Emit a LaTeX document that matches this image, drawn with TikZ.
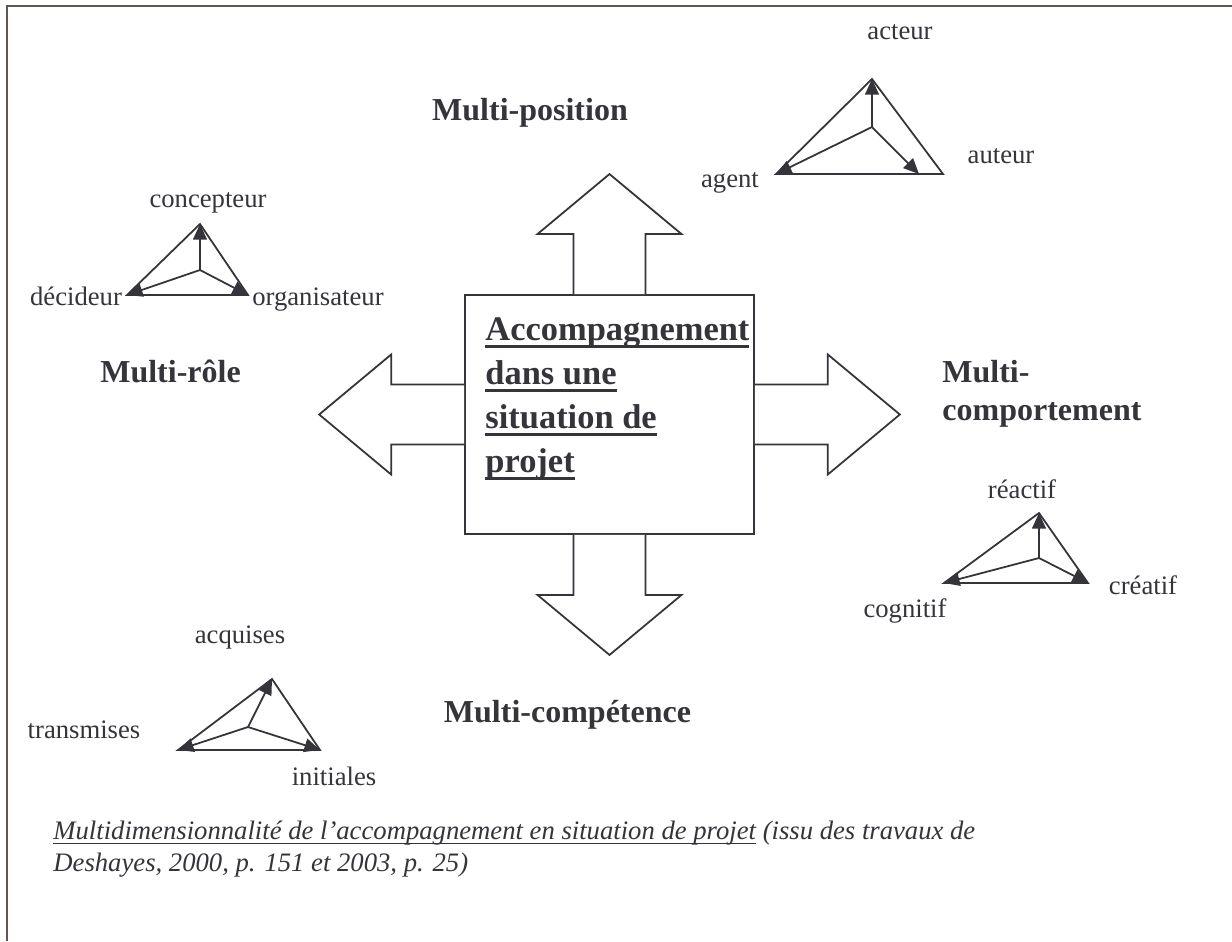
\documentclass[tikz,border=0pt]{standalone}
\usepackage{fontspec}
\setmainfont{Liberation Serif}
\usetikzlibrary{arrows.meta,positioning,calc}

\definecolor{trait}{RGB}{52,52,58}
\definecolor{cadre}{RGB}{96,86,82}

% underline: thick for the box title, thin for the caption
\newcommand{\ulb}[1]{\setbox0\hbox{#1}\rlap{\rule[-3.6pt]{\wd0}{1.2pt}}\box0\relax}
\newcommand{\ulc}[1]{\setbox0\hbox{#1}\rlap{\rule[-2.2pt]{\wd0}{0.6pt}}\box0\relax}

\tikzset{
  lbl/.style={font=\fontsize{12}{14}\selectfont, text=trait, inner sep=0pt, anchor=base},
  dim/.style={font=\fontsize{14.4}{16.5}\selectfont\bfseries, text=trait, inner sep=0pt, anchor=base},
  titre/.style={font=\fontsize{15.5}{18}\selectfont\bfseries, text=trait, inner sep=0pt, anchor=base west},
  fleche/.style={draw=trait, line width=0.8pt, fill=white, line join=miter},
  tri/.style={draw=trait, line width=0.8pt},
  pointe/.style={-{Triangle[length=7pt,width=6.2pt]}, draw=trait, line width=0.8pt},
}

\begin{document}
\begin{tikzpicture}[x=0.45pt, y=-0.45pt]
  \useasboundingbox (0,0) rectangle (1232,941);
  \draw[cadre, line width=1.2pt] (7,941) -- (7,6) -- (1232,6);

  % central box and the four block arrows
  \node[draw=trait, line width=0.8pt, minimum width=130pt, minimum height=107.6pt, inner sep=0pt] (accomp) at (609.5,414.5) {};
  \draw[fleche] ($(accomp.north)+(-36,0)$) -- ++(0,-60) -- ++(-36,0) -- ($(accomp.north)+(0,-120)$)
     -- ($(accomp.north)+(72,-60)$) -- ++(-36,0) -- ($(accomp.north)+(36,0)$);
  \draw[fleche] ($(accomp.south)+(-36,0)$) -- ++(0,60) -- ++(-36,0) -- ($(accomp.south)+(0,120)$)
     -- ($(accomp.south)+(72,60)$) -- ++(-36,0) -- ($(accomp.south)+(36,0)$);
  \draw[fleche] ($(accomp.west)+(0,-30)$) -- ++(-73,0) -- ++(0,-30) -- ($(accomp.west)+(-145,0)$)
     -- ($(accomp.west)+(-73,60)$) -- ++(0,-30) -- ($(accomp.west)+(0,30)$);
  \draw[fleche] ($(accomp.east)+(0,-30)$) -- ++(73,0) -- ++(0,-30) -- ($(accomp.east)+(145,0)$)
     -- ($(accomp.east)+(73,60)$) -- ++(0,-30) -- ($(accomp.east)+(0,30)$);

  \foreach \ligne [count=\i] in {Accompagnement, dans une, situation de, projet}
    \node[titre] (ligne\i) at (485,296+44*\i) {\ulb{\ligne}};

  % dimension titles
  \node[dim] (position) at (530,120) {Multi-position};
  \node[dim] (role) at (170.5,382) {Multi-rôle};
  \node[dim, anchor=base west] (comp1) at (942,382) {Multi-};
  \node[dim, anchor=base west] (comp2) at (942,420) {comportement};
  \node[dim] (competence) at (567.5,722) {Multi-compétence};

  % triangle acteur / agent / auteur
  \coordinate (a-h) at (872,79);
  \coordinate (a-g) at (776,174);
  \coordinate (a-d) at (943,174);
  \coordinate (a-c) at (872,127);
  \coordinate (a-p) at (919,174);
  \draw[tri] (a-h) -- (a-g) -- (a-d) -- cycle;
  \draw[pointe] (a-c) -- (a-h);
  \draw[pointe] (a-c) -- (a-g);
  \draw[pointe] (a-c) -- (a-p);
  \node[lbl] (acteur) at (900,39) {acteur};
  \node[lbl] (auteur) at (1001,163) {auteur};
  \node[lbl] (agent) at (730,187) {agent};

  % triangle concepteur / decideur / organisateur
  \coordinate (b-h) at (200,224);
  \coordinate (b-g) at (127,295);
  \coordinate (b-d) at (248,295);
  \coordinate (b-c) at (200,270);
  \draw[tri] (b-h) -- (b-g) -- (b-d) -- cycle;
  \draw[pointe] (b-c) -- (b-h);
  \draw[pointe] (b-c) -- (b-g);
  \draw[pointe] (b-c) -- (b-d);
  \node[lbl] (concepteur) at (208,207) {concepteur};
  \node[lbl] (decideur) at (76,305) {décideur};
  \node[lbl] (organisateur) at (318,305) {organisateur};

  % triangle reactif / cognitif / creatif
  \coordinate (r-h) at (1039,513);
  \coordinate (r-g) at (944,583);
  \coordinate (r-d) at (1088,583);
  \coordinate (r-c) at (1039,558);
  \draw[tri] (r-h) -- (r-g) -- (r-d) -- cycle;
  \draw[pointe] (r-c) -- (r-h);
  \draw[pointe] (r-c) -- (r-g);
  \draw[pointe] (r-c) -- (r-d);
  \node[lbl] (reactif) at (1022,498) {réactif};
  \node[lbl] (creatif) at (1143,594) {créatif};
  \node[lbl] (cognitif) at (905,617) {cognitif};

  % triangle acquises / transmises / initiales
  \coordinate (q-h) at (272,679);
  \coordinate (q-g) at (178,750);
  \coordinate (q-d) at (320,750);
  \coordinate (q-c) at (248,727);
  \draw[tri] (q-h) -- (q-g) -- (q-d) -- cycle;
  \draw[pointe] (q-c) -- (q-h);
  \draw[pointe] (q-c) -- (q-g);
  \draw[pointe] (q-c) -- (q-d);
  \node[lbl] (acquises) at (240,643) {acquises};
  \node[lbl] (transmises) at (84,738) {transmises};
  \node[lbl] (initiales) at (334,785) {initiales};

  % caption
  \node[lbl, anchor=base west, font=\fontsize{12}{14}\selectfont\itshape] (legende1) at (53,839)
    {\ulc{Multidimensionnalité de l’accompagnement en situation de projet} (issu des travaux de};
  \node[lbl, anchor=base west, font=\fontsize{12}{14}\selectfont\itshape] (legende2) at (53,871)
    {Deshayes, 2000, p. 151 et 2003, p. 25)};
\end{tikzpicture}
\end{document}
